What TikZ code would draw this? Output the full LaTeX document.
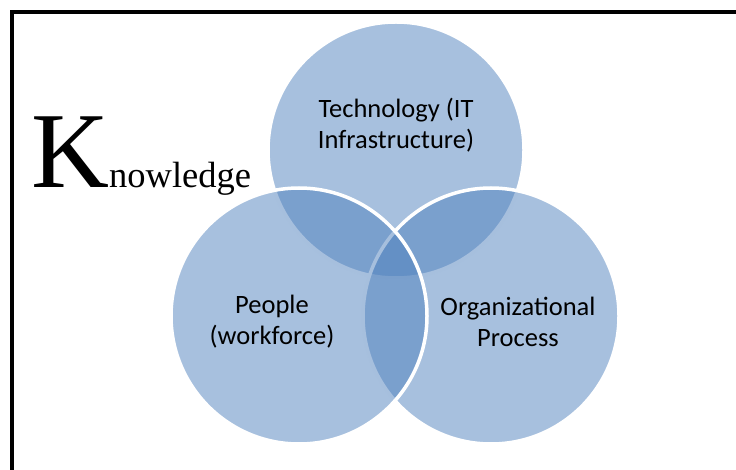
\documentclass[tikz,border=0pt]{standalone}
\usepackage{fontspec}
\setmainfont{Carlito}
\newfontfamily\seriffont{Liberation Serif}
\definecolor{accent}{HTML}{4F81BD}
\begin{document}
\begin{tikzpicture}[x=1pt,y=-1pt,
  venn/.style={circle, minimum size=256pt, inner sep=0pt, fill=accent, fill opacity=0.5, draw=white, line width=3.5pt},
  lbl/.style={align=center, font=\fontsize{26.5}{31}\selectfont, text=black, inner sep=0pt}]
\useasboundingbox (0,0) rectangle (736,470);
\clip (0,0) rectangle (736,470);
\draw[line width=4pt] (12,12) rectangle (800,520);
\node[venn] (tech) at (396,150) {};
\node[venn] (proc) at (491,316) {};
\node[venn] (people) at (299,316) {};
\node[lbl] (techtext) at (396,125) {Technology (IT\\Infrastructure)};
\node[lbl] (peopletext) at (272,322) {People\\(workforce)};
\node[lbl] (proctext) at (518,322) {Organizational\\Process};
\node[anchor=base west, inner sep=0pt] (title) at (31,188) {\seriffont\fontsize{108}{108}\selectfont K\fontsize{36.5}{36.5}\selectfont nowledge};
\end{tikzpicture}
\end{document}
